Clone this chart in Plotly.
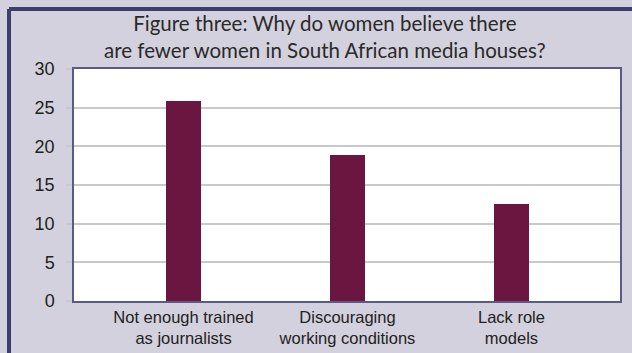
import plotly.graph_objects as go

# Survey responses: reasons given for the shortage of women in media houses
categories = ["Not enough trained<br>as journalists",
              "Discouraging<br>working conditions",
              "Lack role<br>models"]
values = [25.8, 18.9, 12.5]
y_ticks = [0, 5, 10, 15, 20, 25, 30]
title_text = ("Figure three: Why do women believe there<br>"
              "are fewer women in South African media houses?")

BG = "#d3d1dd"
NAVY = "#3d3d6e"
BAR = "#6b1541"

fig = go.Figure(
    go.Bar(x=categories, y=values, marker_color=BAR, marker_line_width=0,
           width=0.213)
)

W, H = 632, 353
L, R, T, B = 74, 12, 69, 52
pw, ph = W - L - R, H - T - B

fig.update_layout(
    width=W, height=H,
    margin=dict(l=L, r=R, t=T, b=B, autoexpand=False),
    paper_bgcolor=BG,
    plot_bgcolor="white",
    showlegend=False,
    bargap=0,
    font=dict(family="Liberation Sans, Arial, sans-serif", size=17, color="#222222"),
    xaxis=dict(
        range=[-0.668, 2.662],
        showgrid=False, zeroline=False, automargin=False,
        showline=True, linecolor="#5a5a88", linewidth=1.5, mirror=True,
        ticks="", tickfont=dict(size=16.5),
    ),
    yaxis=dict(
        range=[0, 30], tickvals=y_ticks, automargin=False,
        showgrid=True, gridcolor="#c9c9c9", gridwidth=1.5,
        zeroline=False,
        showline=True, linecolor="#5a5a88", linewidth=1.5, mirror=True,
        ticks="outside", ticklen=6, tickcolor="#c9c9c9", tickwidth=1.5,
        ticklabelstandoff=8,
        tickfont=dict(size=18),
    ),
)

# Two-line heading, centred over the panel
fig.add_annotation(
    text=title_text, showarrow=False,
    xref="paper", yref="paper",
    x=(325 - L) / pw, y=(H - B - 37) / ph,
    xanchor="center", yanchor="middle", borderpad=0,
    font=dict(family="Lato, Noto Sans, sans-serif", size=20.5, color="#2a2a2a"),
)

# Frame along the top and left edges of the panel
fx = (9 - L) / pw
fy = (H - B - 9) / ph
fig.add_shape(type="line", xref="paper", yref="paper",
              x0=fx, x1=(W - L) / pw + 0.05, y0=fy, y1=fy,
              line=dict(color=NAVY, width=4))
fig.add_shape(type="line", xref="paper", yref="paper",
              x0=fx, x1=fx, y0=fy, y1=-B / ph - 0.05,
              line=dict(color=NAVY, width=4))

fig.write_html("out.html")
